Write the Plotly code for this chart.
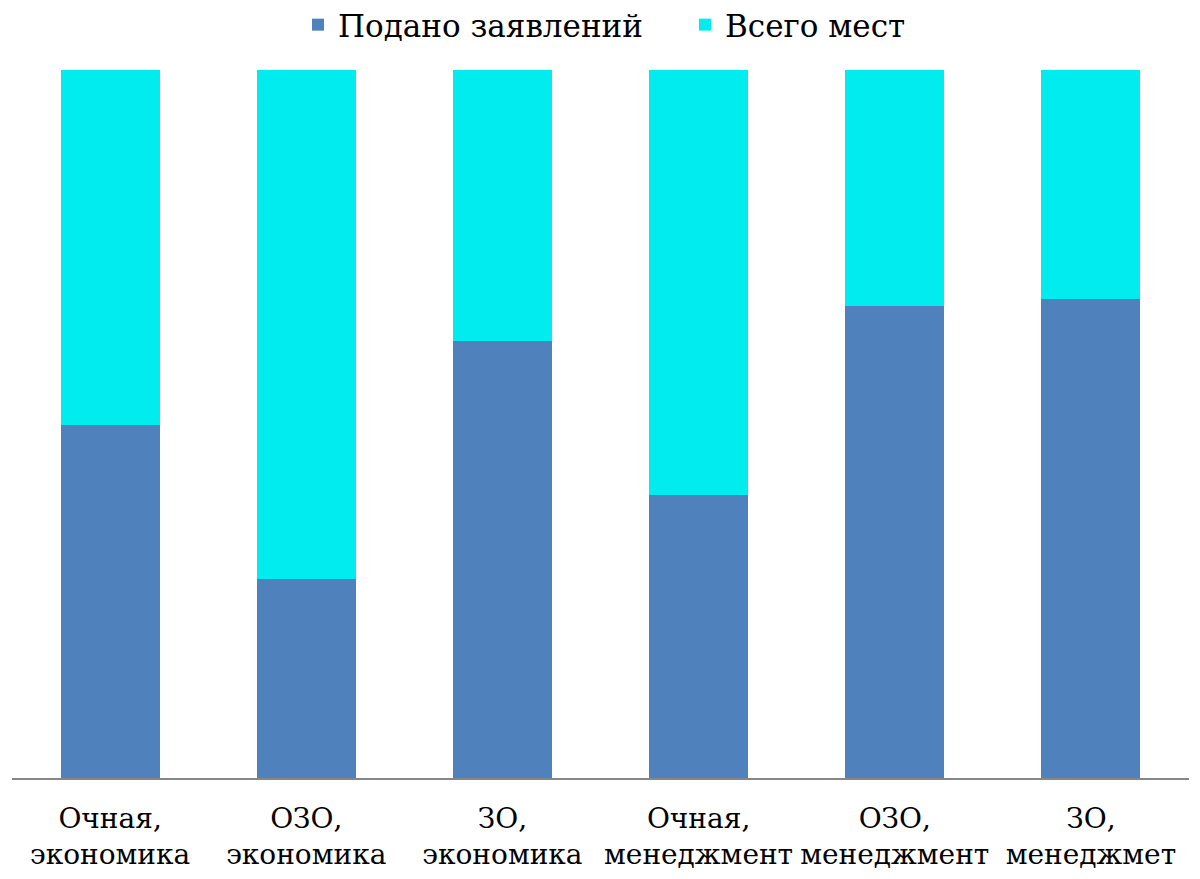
import plotly.graph_objects as go

categories = ["Очная,<br>экономика", "ОЗО,<br>экономика", "ЗО,<br>экономика",
              "Очная,<br>менеджмент", "ОЗО,<br>менеджмент", "ЗО,<br>менеджмет"]
submitted = [49.9, 28.1, 61.7, 40.0, 66.6, 67.6]
places = [50.1, 71.9, 38.3, 60.0, 33.4, 32.4]

W, H = 1192, 871
fig = go.Figure()
fig.add_trace(go.Bar(x=categories, y=submitted, name="Подано заявлений",
                     marker=dict(color="#4F81BD", line=dict(width=0))))
fig.add_trace(go.Bar(x=categories, y=places, name="Всего мест",
                     marker=dict(color="#00ECEE", line=dict(width=0))))

fig.update_layout(
    barmode="stack", barnorm="percent", bargap=0.495,
    width=W, height=H,
    margin=dict(l=4, r=11, t=62, b=101, autoexpand=False),
    paper_bgcolor="white", plot_bgcolor="white",
    font=dict(family="DejaVu Serif", color="#000000"),
    legend=dict(orientation="h", x=(290 - 4) / 1177, xanchor="left",
                yref="container", y=1 - 17 / H, yanchor="middle",
                font=dict(size=31, family="DejaVu Serif"), itemsizing="constant",
                traceorder="normal", itemwidth=30,
                entrywidth=342, entrywidthmode="pixels"),
    showlegend=True,
)
fig.update_xaxes(showline=True, linecolor="#868686", linewidth=2, ticks="",
                 tickfont=dict(size=28, family="DejaVu Serif"), showgrid=False,
                 automargin=False, ticklabelstandoff=14)
fig.update_yaxes(visible=False, range=[0, 100], showgrid=False)

fig.write_html("out.html")
